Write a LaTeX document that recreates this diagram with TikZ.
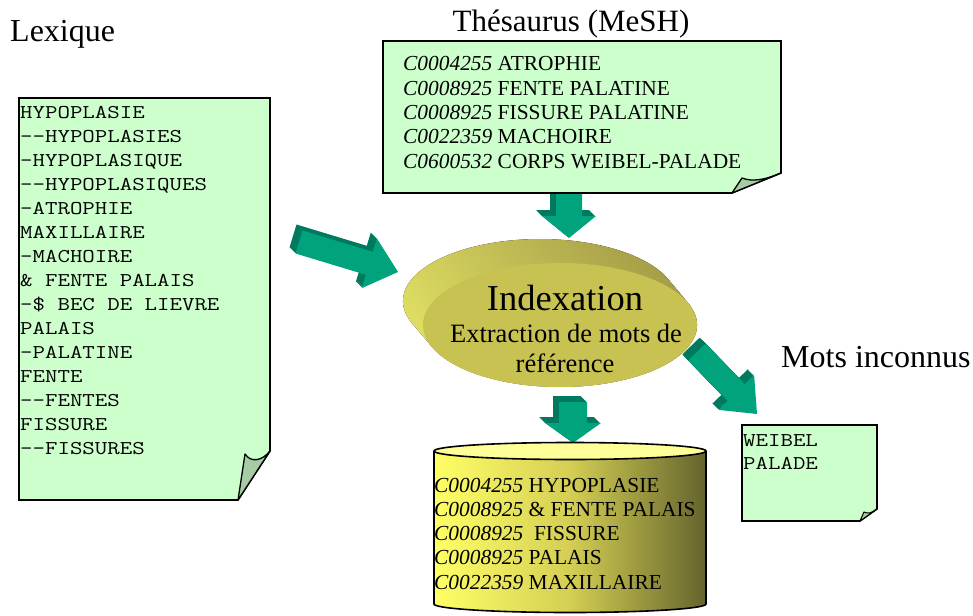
\documentclass[tikz,border=0pt]{standalone}
\usepackage{fontspec}
\usepackage{graphicx}
\setmainfont{Liberation Serif}
\usetikzlibrary{calc}
\definecolor{docfill}{RGB}{204,255,204}
\definecolor{flapfill}{RGB}{166,204,166}
\definecolor{arrowfront}{RGB}{0,163,124}
\definecolor{arrowside}{RGB}{0,122,94}
\definecolor{discface}{RGB}{200,194,82}
\definecolor{disclight}{RGB}{226,226,100}
\definecolor{discdark}{RGB}{162,154,70}
\definecolor{cylleft}{RGB}{255,255,102}
\definecolor{cylmid}{RGB}{212,206,84}
\definecolor{cylright}{RGB}{100,100,45}
\definecolor{cyltop}{RGB}{255,255,153}
\newcommand\blockpoly[6]{%
  \fill[#6] ($(#1)!#3!90:(#2)$) -- ($(#2)!#5!(#1)!#3!-90:(#1)$) --
    ($(#2)!#5!(#1)!#4!-90:(#1)$) -- (#2) -- ($(#2)!#5!(#1)!#4!90:(#1)$) --
    ($(#2)!#5!(#1)!#3!90:(#1)$) -- ($(#1)!#3!-90:(#2)$) -- cycle;}
\newcommand\blockarrow[5]{%
  \foreach \t in {6,5,...,1}{%
    \coordinate (#1-bk) at ($(#1)+(-\t,-\t)$);
    \coordinate (#2-bk) at ($(#2)+(-\t,-\t)$);
    \blockpoly{#1-bk}{#2-bk}{#3}{#4}{#5}{arrowside}}%
  \blockpoly{#1}{#2}{#3}{#4}{#5}{arrowfront}}
\newcommand\monotext[1]{\scalebox{1.24}[1]{#1}}
\tikzset{
  docshape/.style={fill=docfill, draw=black, line width=1.6pt, line join=miter},
  flapshape/.style={fill=flapfill, draw=black, line width=1.3pt, line join=round},
  title/.style={font=\fontsize{32}{36}\selectfont, inner sep=0pt, anchor=base west},
  monoline/.style={font=\ttfamily\fontsize{19.5}{24}\selectfont, inner sep=0pt, anchor=base west},
  serifline/.style={font=\fontsize{21.4}{24}\selectfont, inner sep=0pt, anchor=base west},
}
\begin{document}
\begin{tikzpicture}[x=1pt,y=-1pt]
\useasboundingbox (0,0) rectangle (973,615);

% ---- block arrows (connectors) ----
\coordinate (a1s) at (299,242); \coordinate (a1e) at (398,272);
\coordinate (a2s) at (569,192); \coordinate (a2e) at (569,238);
\coordinate (a3s) at (573,402); \coordinate (a3e) at (573,443);
\coordinate (a4s) at (697,352); \coordinate (a4e) at (757,414);
\blockarrow{a1s}{a1e}{12pt}{26pt}{30pt}
\blockarrow{a2s}{a2e}{13pt}{27pt}{22pt}
\blockarrow{a3s}{a3e}{14pt}{28pt}{20pt}
\blockarrow{a4s}{a4e}{12pt}{25pt}{30pt}

% ---- titles ----
\node[title] (tlex) at (10,42) {Lexique};
\node[title, anchor=base, font=\fontsize{31}{36}\selectfont] (tthes) at (571,32) {Thésaurus (MeSH)};
\node[title] (tmots) at (781,367) {Mots inconnus};

% ---- Lexique document ----
\draw[docshape] (19,98) -- (270,98) -- (270,451) -- (238,500) -- (19,500) -- cycle;
\draw[flapshape] (270,451) -- (238,500) -- (245,454) .. controls (251,463) and (262,461) .. (270,451);
\foreach \s [count=\i from 0] in {HYPOPLASIE, -{}-HYPOPLASIES, -HYPOPLASIQUE, -{}-HYPOPLASIQUES,
  -ATROPHIE, MAXILLAIRE, -MACHOIRE, \& FENTE PALAIS, -\$ BEC DE LIEVRE, PALAIS,
  -PALATINE, FENTE, -{}-FENTES, FISSURE, -{}-FISSURES}
  \node[monoline] (lex\i) at (20,118+24.07*\i) {\monotext{\s}};

% ---- Thesaurus document ----
\draw[docshape] (383,41) -- (781,41) -- (781,173) -- (732,193) -- (383,193) -- cycle;
\draw[flapshape] (781,173) -- (732,193) -- (742,178) .. controls (752,182) and (765,180) .. (781,173);
\foreach \c/\w [count=\i from 0] in {C0004255/ATROPHIE, C0008925/FENTE PALATINE,
  C0008925/FISSURE PALATINE, C0022359/MACHOIRE, C0600532/CORPS WEIBEL-PALADE}
  \node[serifline] (thes\i) at (403,71+24.25*\i) {\textit{\c} \w};

% ---- Indexation disc (extruded ellipse) ----
\fill[top color=discdark, bottom color=disclight, shading angle=-50]
  (411.8,322.9) arc[start angle=159.34, end angle=339.34, x radius=137, y radius=62]
  -- (688.2,303.1) arc[start angle=339.34, end angle=519.34, x radius=137, y radius=62]
  -- cycle;
\fill[discface] (560,325) ellipse [x radius=137, y radius=62];
\node[inner sep=0pt, anchor=base, font=\fontsize{36.5}{40}\selectfont] (idx) at (565,310) {Indexation};
\node[inner sep=0pt, anchor=base, font=\fontsize{26.5}{30}\selectfont] (ext1) at (566,342) {Extraction de mots de};
\node[inner sep=0pt, anchor=base, font=\fontsize{26.5}{30}\selectfont] (ext2) at (565,372) {référence};

% ---- database cylinder ----
\fill[left color=cylleft, right color=cylright, middle color=cylmid]
  (434,451) -- (434,604) arc[start angle=180, end angle=0, x radius=136, y radius=8.5] -- (706,451) -- cycle;
\draw[line width=1.6pt] (434,451) -- (434,604) arc[start angle=180, end angle=0, x radius=136, y radius=8.5] -- (706,451);
\draw[line width=1.6pt, fill=cyltop] (570,451) ellipse [x radius=136, y radius=8.5];
\foreach \c/\w [count=\i from 0] in {C0004255/HYPOPLASIE, C0008925/\& FENTE PALAIS,
  C0008925/\ FISSURE, C0008925/PALAIS, C0022359/MAXILLAIRE}
  \node[serifline] (db\i) at (434,492+24.3*\i) {\textit{\c} \w};

% ---- unknown words document ----
\draw[docshape] (742,425) -- (877,425) -- (877,509) -- (860,521) -- (742,521) -- cycle;
\draw[flapshape, line width=1pt] (877,509) -- (860,521) -- (864,512) .. controls (868,514) and (872,513) .. (877,509);
\node[monoline] (unk0) at (743,446) {\monotext{WEIBEL}};
\node[monoline] (unk1) at (743,469) {\monotext{PALADE}};
\end{tikzpicture}
\end{document}
